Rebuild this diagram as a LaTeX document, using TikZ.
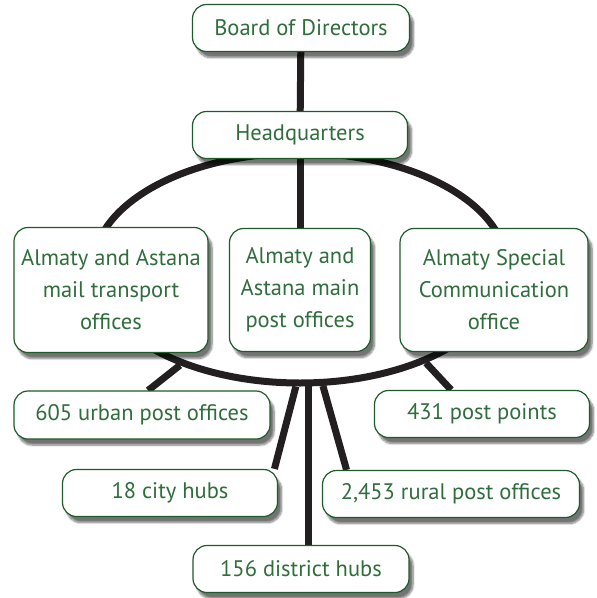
\documentclass[tikz,border=0pt]{standalone}
\usepackage{fontspec}
\setmainfont{PT Sans}
\usetikzlibrary{shapes.geometric,shadows.blur,backgrounds}
\definecolor{boxgreen}{HTML}{1E5B2A}
\definecolor{textgreen}{HTML}{2F6E3C}
\definecolor{linkblack}{HTML}{231F20}
\tikzset{
	unit/.style={draw=boxgreen, line width=1.2pt, fill=white, rounded corners=14pt,
		text=textgreen, font=\fontsize{22.5}{32}\selectfont, align=center, inner sep=0pt,
		blur shadow={shadow xshift=4pt, shadow yshift=-6pt, shadow blur steps=8, shadow opacity=55}},
	link/.style={line width=7pt, draw=linkblack}
}
\begin{document}
\begin{tikzpicture}[x=1pt,y=-1pt]
	\useasboundingbox (0,0) rectangle (597,598);
	\node[ellipse, draw=linkblack, line width=7pt, minimum width=414pt, minimum height=230pt] (ring) at (300,268) {};
	\node[unit, minimum width=217pt, minimum height=47pt] (board) at (301,28) {Board of Directors};
	\node[unit, minimum width=215pt, minimum height=47pt] (hq) at (300,135) {Headquarters};
	\node[unit, minimum width=194pt, minimum height=125pt] (transport) at (111,290) {Almaty and Astana\\mail transport\\offices};
	\node[unit, minimum width=141pt, minimum height=123pt] (mainpost) at (300,290) {Almaty and\\Astana main\\post offices};
	\node[unit, minimum width=188pt, minimum height=123pt] (special) at (494,290) {Almaty Special\\Communication\\office};
	\node[unit, minimum width=256pt, minimum height=48pt] (urban) at (142,415) {605 urban post offices};
	\node[unit, minimum width=215pt, minimum height=47pt] (points) at (482,414) {431 post points};
	\node[unit, minimum width=215pt, minimum height=47pt] (city) at (170,493) {18 city hubs};
	\node[unit, minimum width=257pt, minimum height=47pt] (rural) at (451,494) {2,453 rural post offices};
	\node[unit, minimum width=216pt, minimum height=47pt] (district) at (301,569) {156 district hubs};
	\begin{scope}[on background layer]
		\draw[link] (board) -- (hq);
		\draw[link] (hq) -- (mainpost);
		\draw[link] (ring.219) -- (urban.76);
		\draw[link] (ring.323) -- (points.142);
		\draw[link] (ring.268) -- (city.13);
		\draw[link] (ring.274) -- (ring.274 |- district.north);
		\draw[link] (ring.281) -- (rural.167);
	\end{scope}
\end{tikzpicture}
\end{document}
